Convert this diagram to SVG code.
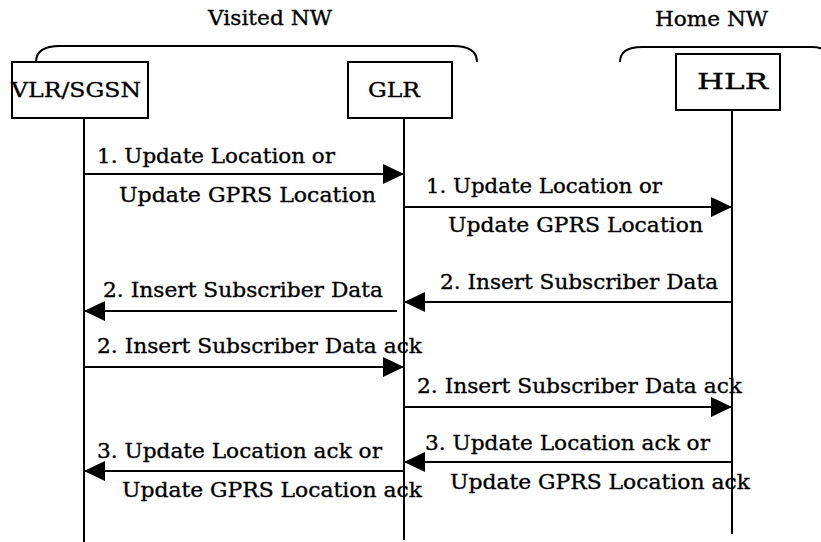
<svg xmlns="http://www.w3.org/2000/svg" width="821" height="542" viewBox="0 0 821 542">
<style>
text{font-family:"DejaVu Serif","Liberation Serif",serif;font-size:21px;fill:#000;stroke:#000;stroke-width:0.35}
.box{fill:#fff;stroke:#000;stroke-width:2}
.ll{stroke:#000;stroke-width:2;fill:none}
.msg{stroke:#000;stroke-width:2;fill:none;marker-end:url(#ah)}
.brace{stroke:#000;stroke-width:2;fill:none}
</style>
<defs>
<marker id="ah" markerUnits="userSpaceOnUse" markerWidth="22" markerHeight="20" refX="21" refY="10" orient="auto">
<path d="M0,0 L21,10 L0,20 z" fill="#000"/>
</marker>
</defs>
<rect width="821" height="542" fill="#fff"/>
<g id="groups">
<text x="208" y="25" textLength="124" lengthAdjust="spacingAndGlyphs">Visited NW</text>
<path class="brace" d="M36,62 C36,51 44,46 60,46 L453,46 C469,46 477,51 477,62"/>
<text x="655" y="26" textLength="113" lengthAdjust="spacingAndGlyphs">Home NW</text>
<path class="brace" d="M620,62 C620,52 627,47 642,47 L812,47 C820,47 828,50 830,56"/>
</g>
<g id="lifelines">
<line class="ll" x1="84" y1="118" x2="84" y2="542"/>
<line class="ll" x1="404" y1="118" x2="404" y2="540"/>
<line class="ll" x1="732" y1="110" x2="732" y2="534"/>
</g>
<g id="vlr">
<rect class="box" x="12" y="62" width="136" height="56"/>
<text x="11" y="97" textLength="130" lengthAdjust="spacingAndGlyphs">VLR/SGSN</text>
</g>
<g id="glr">
<rect class="box" x="348" y="62" width="104" height="56"/>
<text x="368" y="97" textLength="52" lengthAdjust="spacingAndGlyphs">GLR</text>
</g>
<g id="hlr">
<rect class="box" x="676" y="54" width="104" height="56"/>
<text x="697" y="89" style="font-size:23px" textLength="71" lengthAdjust="spacingAndGlyphs">HLR</text>
</g>
<g id="connectors">
<line class="msg" x1="84" y1="174" x2="404" y2="174"/>
<line class="msg" x1="404" y1="207" x2="732" y2="207"/>
<line class="msg" x1="732" y1="302" x2="404" y2="302"/>
<line class="msg" x1="397" y1="311" x2="84" y2="311"/>
<line class="msg" x1="84" y1="367" x2="404" y2="367"/>
<line class="msg" x1="404" y1="407" x2="732" y2="407"/>
<line class="msg" x1="732" y1="462" x2="404" y2="462"/>
<line class="msg" x1="404" y1="471" x2="84" y2="471"/>
</g>
<g id="labels">
<text x="97" y="163" textLength="238" lengthAdjust="spacingAndGlyphs">1. Update Location or</text>
<text x="119" y="202" textLength="257" lengthAdjust="spacingAndGlyphs">Update GPRS Location</text>
<text x="426" y="193" textLength="236" lengthAdjust="spacingAndGlyphs">1. Update Location or</text>
<text x="448" y="232" textLength="255" lengthAdjust="spacingAndGlyphs">Update GPRS Location</text>
<text x="440" y="289" textLength="278" lengthAdjust="spacingAndGlyphs">2. Insert Subscriber Data</text>
<text x="103" y="297" textLength="280" lengthAdjust="spacingAndGlyphs">2. Insert Subscriber Data</text>
<text x="97" y="353" textLength="325" lengthAdjust="spacingAndGlyphs">2. Insert Subscriber Data ack</text>
<text x="417" y="393" textLength="325" lengthAdjust="spacingAndGlyphs">2. Insert Subscriber Data ack</text>
<text x="425" y="450" textLength="285" lengthAdjust="spacingAndGlyphs">3. Update Location ack or</text>
<text x="450" y="489" textLength="300" lengthAdjust="spacingAndGlyphs">Update GPRS Location ack</text>
<text x="97" y="458" textLength="285" lengthAdjust="spacingAndGlyphs">3. Update Location ack or</text>
<text x="122" y="497" textLength="300" lengthAdjust="spacingAndGlyphs">Update GPRS Location ack</text>
</g>
</svg>
